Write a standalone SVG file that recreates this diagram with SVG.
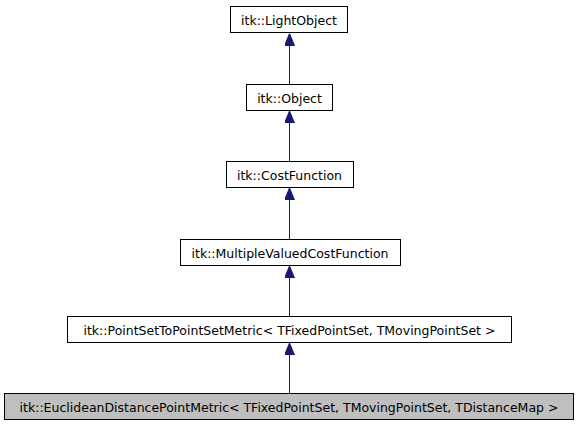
<svg xmlns="http://www.w3.org/2000/svg" width="579" height="427" viewBox="0 0 579 427">
<style>
  .box { fill: #ffffff; stroke: #000000; stroke-width: 1; }
  .cur { fill: #bfbfbf; stroke: #000000; stroke-width: 1; }
  .lbl { font-family: "DejaVu Sans", "Liberation Sans", sans-serif; font-size: 12.5px; fill: #000000; text-anchor: middle; }
  .edge { stroke: #191970; stroke-width: 1; fill: none; marker-end: url(#arr); }
</style>
<defs>
  <marker id="arr" viewBox="0 0 12 10" refX="12" refY="5" markerWidth="12" markerHeight="10" markerUnits="userSpaceOnUse" orient="auto">
    <path d="M0,0 L12,5 L0,10 Z" fill="#191970" stroke="#191970" stroke-width="1"/>
  </marker>
</defs>
<rect width="579" height="427" fill="#ffffff"/>
<g id="connectors">
  <line class="edge" x1="289.5" y1="84" x2="289.5" y2="33.5"/>
  <line class="edge" x1="289.5" y1="161" x2="289.5" y2="111"/>
  <line class="edge" x1="289.5" y1="239" x2="289.5" y2="188"/>
  <line class="edge" x1="289.5" y1="316" x2="289.5" y2="266"/>
  <line class="edge" x1="289.5" y1="393" x2="289.5" y2="343"/>
</g>
<g id="node-lightobject">
  <rect class="box" x="230.5" y="6.5" width="117" height="26"/>
  <text class="lbl" x="289" y="24.5">itk::LightObject</text>
</g>
<g id="node-object">
  <rect class="box" x="246.5" y="84.5" width="86" height="26"/>
  <text class="lbl" x="289.5" y="102.5">itk::Object</text>
</g>
<g id="node-costfunction">
  <rect class="box" x="226.5" y="161.5" width="127" height="26"/>
  <text class="lbl" x="289.5" y="179.5">itk::CostFunction</text>
</g>
<g id="node-multiplevaluedcostfunction">
  <rect class="box" x="180.5" y="239.5" width="220" height="26"/>
  <text class="lbl" x="290" y="257.5">itk::MultipleValuedCostFunction</text>
</g>
<g id="node-pointsettopointsetmetric">
  <rect class="box" x="67.5" y="316.5" width="444" height="26"/>
  <text class="lbl" x="289.5" y="334.5">itk::PointSetToPointSetMetric&lt; TFixedPointSet, TMovingPointSet &gt;</text>
</g>
<g id="node-euclideandistancepointmetric">
  <rect class="cur" x="4.5" y="393.5" width="569" height="26"/>
  <text class="lbl" x="289" y="411.5">itk::EuclideanDistancePointMetric&lt; TFixedPointSet, TMovingPointSet, TDistanceMap &gt;</text>
</g>
</svg>
